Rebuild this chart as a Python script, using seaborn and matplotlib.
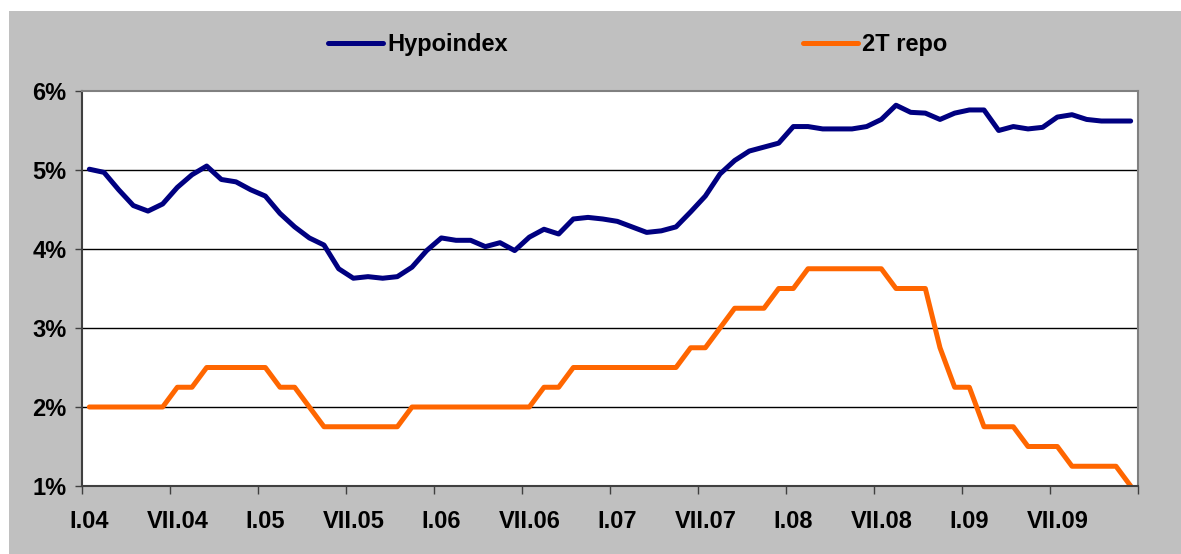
import matplotlib
matplotlib.use("Agg")
import matplotlib.pyplot as plt
import numpy as np
import pandas as pd
import seaborn as sns
from matplotlib.patches import Rectangle
from matplotlib.ticker import FixedLocator, FuncFormatter

# monthly values, I.04 .. XII.09 (72 months), in percent
hypoindex = [5.01, 4.97, 4.75, 4.55, 4.48, 4.57, 4.78, 4.94, 5.05, 4.88, 4.85, 4.75,
             4.67, 4.45, 4.28, 4.14, 4.05, 3.75, 3.63, 3.65, 3.63, 3.65, 3.77, 3.98,
             4.14, 4.11, 4.11, 4.03, 4.08, 3.98, 4.15, 4.25, 4.19, 4.38, 4.40, 4.38,
             4.35, 4.28, 4.21, 4.23, 4.28, 4.47, 4.67, 4.95, 5.12, 5.24, 5.29, 5.34,
             5.55, 5.55, 5.52, 5.52, 5.52, 5.55, 5.64, 5.82, 5.73, 5.72, 5.64, 5.72,
             5.76, 5.76, 5.50, 5.55, 5.52, 5.54, 5.67, 5.70, 5.64, 5.62, 5.62, 5.62]
repo_2t = [2.0, 2.0, 2.0, 2.0, 2.0, 2.0, 2.25, 2.25, 2.5, 2.5, 2.5, 2.5,
           2.5, 2.25, 2.25, 2.0, 1.75, 1.75, 1.75, 1.75, 1.75, 1.75, 2.0, 2.0,
           2.0, 2.0, 2.0, 2.0, 2.0, 2.0, 2.0, 2.25, 2.25, 2.5, 2.5, 2.5,
           2.5, 2.5, 2.5, 2.5, 2.5, 2.75, 2.75, 3.0, 3.25, 3.25, 3.25, 3.5,
           3.5, 3.75, 3.75, 3.75, 3.75, 3.75, 3.75, 3.5, 3.5, 3.5, 2.75, 2.25,
           2.25, 1.75, 1.75, 1.75, 1.5, 1.5, 1.5, 1.25, 1.25, 1.25, 1.25, 1.0]
tick_labels = ["I.04", "VII.04", "I.05", "VII.05", "I.06", "VII.06",
               "I.07", "VII.07", "I.08", "VII.08", "I.09", "VII.09"]
series_names = ["Hypoindex", "2T repo"]
colors = {"Hypoindex": "#000080", "2T repo": "#FF6600"}

months = np.arange(len(hypoindex))
df = pd.concat([
    pd.DataFrame({"month": months, "value": hypoindex, "series": "Hypoindex"}),
    pd.DataFrame({"month": months, "value": repo_2t, "series": "2T repo"}),
])

sns.set_style("white")
plt.rcParams["font.family"] = ["Liberation Sans", "DejaVu Sans"]
plt.rcParams["font.weight"] = "bold"
plt.rcParams["text.color"] = "black"
plt.rcParams["xtick.labelcolor"] = "black"
plt.rcParams["ytick.labelcolor"] = "black"

W, H = 1181, 554
fig = plt.figure(figsize=(W / 100, H / 100), dpi=100, facecolor="white")
fig.patches.append(Rectangle((9 / W, 0), 1, (H - 11) / H, transform=fig.transFigure,
                             facecolor="#C0C0C0", edgecolor="none", zorder=-10))

ax = fig.add_axes([82 / W, 1 - 486 / H, (1138 - 82) / W, (486 - 91) / H])
ax.set_facecolor("white")

sns.lineplot(data=df, x="month", y="value", hue="series", hue_order=series_names,
             palette=colors, linewidth=3.6, legend=False, ax=ax)
for line in ax.get_lines():
    line.set_solid_joinstyle("round")
    line.set_solid_capstyle("round")

ax.set_xlim(-0.5, len(months) - 0.5)
ax.set_ylim(1, 6)
ax.set_xlabel("")
ax.set_ylabel("")

# y axis
ax.set_yticks([1, 2, 3, 4, 5, 6])
ax.yaxis.set_major_formatter(FuncFormatter(lambda v, p: f"{v:.0f}%"))
ax.tick_params(axis="y", direction="out", length=5, width=1, color="#404040",
               pad=6, labelsize=17, labelcolor="black", left=True)
for yv in [2, 3, 4, 5]:
    ax.axhline(yv, color="black", linewidth=1, zorder=0.5)

# x axis: ticks between categories, labels on categories
ax.xaxis.set_major_locator(FixedLocator(np.arange(-0.5, len(months), 6)))
ax.xaxis.set_minor_locator(FixedLocator(np.arange(0, len(months), 6)))
ax.set_xticklabels([], minor=False)
ax.set_xticklabels(tick_labels, minor=True)
ax.tick_params(axis="x", which="major", direction="out", length=6, width=1,
               color="#404040", bottom=True)
ax.tick_params(axis="x", which="minor", length=0, pad=17, labelsize=17,
               labelcolor="black")

for lab in ax.get_xticklabels(minor=True) + ax.get_yticklabels():
    lab.set_fontweight("bold")

for side in ["left", "bottom"]:
    ax.spines[side].set_color("#404040")
    ax.spines[side].set_linewidth(1.5)
for side in ["top", "right"]:
    ax.spines[side].set_color("#808080")
    ax.spines[side].set_linewidth(1.5)
    ax.spines[side].set_visible(True)

handles = ax.get_lines()[:2]
leg = fig.legend(handles, series_names, loc="center", ncol=2,
                 bbox_to_anchor=(638 / W, 1 - 45 / H), frameon=False,
                 prop={"size": 17, "weight": "bold"}, handlelength=2.3,
                 handletextpad=0.2, columnspacing=12.5)
for t in leg.get_texts():
    t.set_color("black")

fig.savefig("out.png", dpi=100, facecolor=fig.get_facecolor())
